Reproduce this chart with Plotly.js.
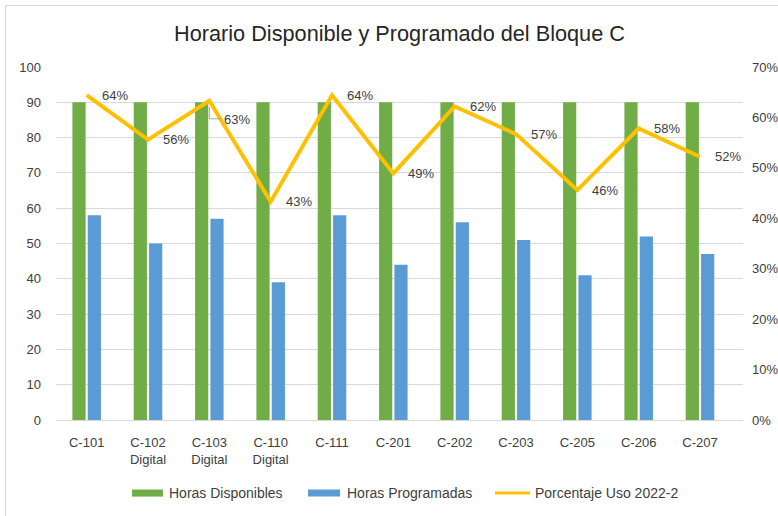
<!DOCTYPE html>
<html>
<head>
<meta charset="utf-8">
<script src="https://cdn.plot.ly/plotly-3.0.1.min.js"></script>
<style>
html,body{margin:0;padding:0;background:#fff;overflow:hidden;}
#frame{position:absolute;left:5px;top:5px;width:800px;height:520px;border-left:1px solid #D9D9D9;border-top:1px solid #D9D9D9;}
#chart{position:absolute;left:0;top:0;width:778px;height:516px;}
</style>
</head>
<body>
<div id="frame"></div>
<div id="chart"></div>
<script>
const categories = ["C-101","C-102<br>Digital","C-103<br>Digital","C-110<br>Digital","C-111","C-201","C-202","C-203","C-205","C-206","C-207"];
const horasDisponibles = [90,90,90,90,90,90,90,90,90,90,90];
const horasProgramadas = [58,50,57,39,58,44,56,51,41,52,47];
const porcentajeUso = [0.644,0.556,0.633,0.433,0.644,0.489,0.622,0.567,0.456,0.578,0.522];
const porcentajeLabels = ["64%","56%","63%","43%","64%","49%","62%","57%","46%","58%","52%"];
const labelYShift = [0,0,-19,0,0,0,0,0,0,0,0];

const seriesNames = ["Horas Disponibles","Horas Programadas","Porcentaje Uso 2022-2"];
const seriesColors = ["#70AD47","#5B9BD5","#FFC000"];

const FONT = "'Liberation Sans', Arial, sans-serif";
const TXT = '#404040';

const traces = [
  {type:'bar', name:seriesNames[0], x:categories, y:horasDisponibles, marker:{color:seriesColors[0]}, hoverinfo:'skip'},
  {type:'bar', name:seriesNames[1], x:categories, y:horasProgramadas, marker:{color:seriesColors[1]}, hoverinfo:'skip'},
  {type:'scatter', mode:'lines', name:seriesNames[2], x:categories, y:porcentajeUso, yaxis:'y2',
   line:{color:seriesColors[2], width:4}, cliponaxis:false, hoverinfo:'skip'}
];

// data labels for the percentage line
const annotations = porcentajeUso.map((v,i)=>({
  x:categories[i], y:v, xref:'x', yref:'y2', text:porcentajeLabels[i], showarrow:false,
  xanchor:'left', yanchor:'middle', xshift:13, yshift:labelYShift[i],
  font:{family:FONT, size:13, color:TXT}
}));

const shapes = [];
// leader lines for displaced labels
labelYShift.forEach((s,i)=>{
  if(s!==0){
    shapes.push({type:'path', xref:'x', yref:'y2', xsizemode:'pixel', ysizemode:'pixel',
      xanchor:categories[i], yanchor:porcentajeUso[i], path:'M0,-6 L0,'+(s+1)+' L12,'+(s+1),
      line:{color:'#A6A6A6', width:1}, layer:'above'});
  }
});

// custom legend (wide swatches like the reference)
const legendY = -0.207;
const legendItems = [
  {x0:0.1106, x1:0.1557, tx:0.1616},
  {x0:0.3668, x1:0.4134, tx:0.4207},
  {x0:0.6390, x1:0.6900, tx:0.6943}
];
legendItems.forEach((it,i)=>{
  if(i<2){
    shapes.push({type:'rect', xref:'paper', yref:'paper', x0:it.x0, x1:it.x1, y0:legendY-0.010, y1:legendY+0.010,
      fillcolor:seriesColors[i], line:{width:0}});
  } else {
    shapes.push({type:'line', xref:'paper', yref:'paper', x0:it.x0, x1:it.x1, y0:legendY, y1:legendY,
      line:{color:seriesColors[i], width:3}});
  }
  annotations.push({xref:'paper', yref:'paper', x:it.tx, y:legendY, text:seriesNames[i], showarrow:false,
    xanchor:'left', yanchor:'middle', font:{family:FONT, size:14, color:TXT}});
});

const layout = {
  width:778, height:516,
  paper_bgcolor:'rgba(0,0,0,0)', plot_bgcolor:'rgba(0,0,0,0)',
  font:{family:FONT, size:13, color:TXT},
  title:{text:'Horario Disponible y Programado del Bloque C', font:{family:FONT, size:21.7, color:'#262626'}, xref:'paper', x:0.5, xanchor:'center', y:0.935, yanchor:'middle'},
  margin:{l:56, r:35, t:67, b:96},
  barmode:'group', bargap:0.50, bargroupgap:0.14,
  xaxis:{showgrid:false, showline:true, linecolor:'#D9D9D9', linewidth:1, ticks:'', ticklabelstandoff:10, tickfont:{size:13, color:TXT}},
  yaxis:{range:[0,100], dtick:10, showgrid:true, gridcolor:'#D9D9D9', gridwidth:1, zeroline:false, ticks:'', ticklabelstandoff:14, tickfont:{size:13, color:TXT}},
  yaxis2:{range:[0,0.7], dtick:0.1, tickformat:'.0%', overlaying:'y', side:'right', showgrid:false, zeroline:false, ticks:'', ticklabelstandoff:8, tickfont:{size:13, color:TXT}},
  showlegend:false,
  annotations:annotations,
  shapes:shapes
};

Plotly.newPlot('chart', traces, layout, {displayModeBar:false, staticPlot:true});
</script>
</body>
</html>
